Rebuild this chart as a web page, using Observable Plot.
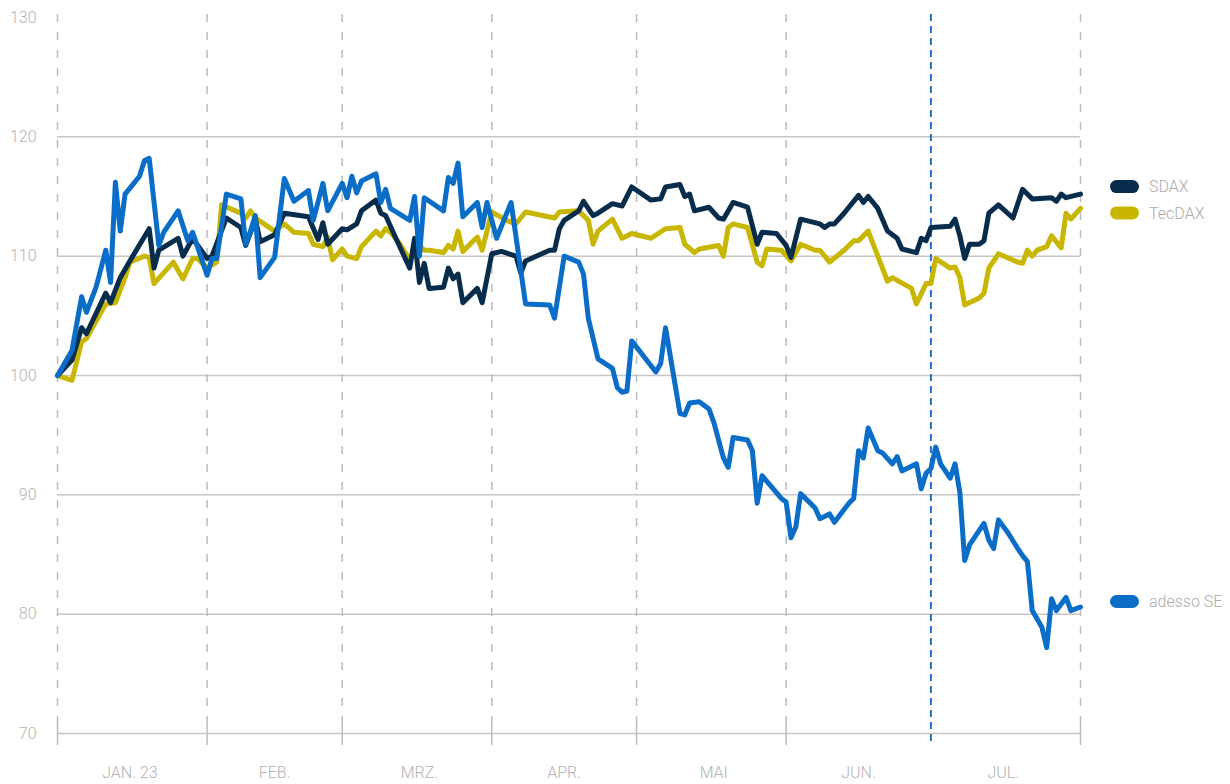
<!DOCTYPE html>
<html>
<head>
<meta charset="utf-8">
<script src="https://cdn.jsdelivr.net/npm/d3@7"></script>
<script src="https://cdn.jsdelivr.net/npm/@observablehq/plot@0.6"></script>
<style>
html, body { margin: 0; padding: 0; background: #fff; }
#chart { width: 1230px; height: 784px; }
</style>
</head>
<body>
<div id="chart"></div>
<script>
// ---------- data ----------
const seriesNames = ["TecDAX", "SDAX", "adesso SE"];
const seriesColors = ["#c9b600", "#082c4c", "#0a6ec9"];

const sdaxDates = ["2023-01-01","2023-01-04","2023-01-06","2023-01-07","2023-01-11","2023-01-12","2023-01-14","2023-01-16","2023-01-20","2023-01-21","2023-01-22","2023-01-26","2023-01-27","2023-01-29","2023-02-01","2023-02-02","2023-02-05","2023-02-08","2023-02-09","2023-02-11","2023-02-12","2023-02-15","2023-02-17","2023-02-22","2023-02-24","2023-02-25","2023-02-26","2023-03-01","2023-03-02","2023-03-04","2023-03-05","2023-03-08","2023-03-09","2023-03-10","2023-03-12","2023-03-15","2023-03-16","2023-03-17","2023-03-18","2023-03-19","2023-03-22","2023-03-23","2023-03-24","2023-03-25","2023-03-26","2023-03-29","2023-03-30","2023-04-01","2023-04-03","2023-04-06","2023-04-07","2023-04-08","2023-04-13","2023-04-14","2023-04-15","2023-04-16","2023-04-19","2023-04-20","2023-04-22","2023-04-23","2023-04-26","2023-04-28","2023-04-30","2023-05-04","2023-05-06","2023-05-07","2023-05-10","2023-05-11","2023-05-12","2023-05-13","2023-05-16","2023-05-18","2023-05-19","2023-05-21","2023-05-24","2023-05-26","2023-05-27","2023-05-30","2023-06-01","2023-06-02","2023-06-04","2023-06-08","2023-06-09","2023-06-10","2023-06-11","2023-06-13","2023-06-16","2023-06-17","2023-06-18","2023-06-20","2023-06-22","2023-06-24","2023-06-25","2023-06-28","2023-06-29","2023-06-30","2023-07-01","2023-07-05","2023-07-06","2023-07-07","2023-07-08","2023-07-09","2023-07-11","2023-07-12","2023-07-13","2023-07-15","2023-07-18","2023-07-20","2023-07-22","2023-07-26","2023-07-27","2023-07-28","2023-07-29","2023-08-01"];
const sdaxValues = [100,101.3,104.0,103.5,106.9,106.1,108.2,109.6,112.3,109.0,110.5,111.5,110.0,111.5,109.8,110.0,113.2,112.4,110.9,113.1,111.2,111.8,113.6,113.3,111.4,112.8,111.0,112.3,112.2,112.7,113.8,114.7,113.6,113.4,111.6,109.0,111.5,107.8,109.4,107.3,107.4,109.0,108.1,108.5,106.1,107.3,106.1,110.2,110.4,110.0,108.6,109.6,110.5,110.5,112.3,113.0,113.8,114.6,113.4,113.6,114.4,114.2,115.8,114.7,114.8,115.8,116.0,115.0,115.2,113.8,114.1,113.2,113.1,114.5,114.1,111.0,112.0,111.9,110.9,109.9,113.1,112.7,112.4,112.7,112.7,113.6,115.1,114.5,115.0,114.0,112.1,111.5,110.6,110.3,111.5,111.3,112.4,112.5,113.1,111.7,109.8,111.0,111.0,111.3,113.6,114.3,113.2,115.6,114.8,114.9,114.6,115.2,114.9,115.2];

const tecdaxDates = ["2023-01-01","2023-01-04","2023-01-06","2023-01-07","2023-01-11","2023-01-13","2023-01-15","2023-01-16","2023-01-19","2023-01-20","2023-01-21","2023-01-25","2023-01-27","2023-01-29","2023-01-30","2023-02-01","2023-02-03","2023-02-04","2023-02-08","2023-02-09","2023-02-10","2023-02-11","2023-02-15","2023-02-17","2023-02-19","2023-02-22","2023-02-23","2023-02-25","2023-02-26","2023-02-27","2023-03-01","2023-03-02","2023-03-04","2023-03-05","2023-03-08","2023-03-09","2023-03-10","2023-03-11","2023-03-13","2023-03-15","2023-03-16","2023-03-17","2023-03-18","2023-03-19","2023-03-22","2023-03-23","2023-03-24","2023-03-25","2023-03-26","2023-03-29","2023-03-30","2023-04-01","2023-04-04","2023-04-06","2023-04-08","2023-04-14","2023-04-15","2023-04-19","2023-04-21","2023-04-22","2023-04-23","2023-04-26","2023-04-28","2023-04-30","2023-05-04","2023-05-07","2023-05-10","2023-05-11","2023-05-13","2023-05-14","2023-05-18","2023-05-19","2023-05-20","2023-05-21","2023-05-24","2023-05-26","2023-05-27","2023-05-28","2023-05-31","2023-06-02","2023-06-04","2023-06-07","2023-06-08","2023-06-10","2023-06-13","2023-06-15","2023-06-16","2023-06-18","2023-06-20","2023-06-22","2023-06-23","2023-06-27","2023-06-28","2023-06-30","2023-07-01","2023-07-02","2023-07-05","2023-07-06","2023-07-07","2023-07-08","2023-07-11","2023-07-12","2023-07-13","2023-07-15","2023-07-19","2023-07-20","2023-07-21","2023-07-22","2023-07-23","2023-07-25","2023-07-26","2023-07-28","2023-07-29","2023-07-30","2023-08-01"];
const tecdaxValues = [100,99.6,102.8,103.1,106.0,106.1,108.2,109.5,110.0,109.9,107.7,109.5,108.1,109.8,109.8,109.0,109.5,114.3,113.6,113.2,113.8,113.2,112.1,112.7,112.0,111.9,111.0,110.8,111.6,109.7,110.6,110.0,109.8,110.8,112.1,111.7,112.3,112.0,111.0,109.7,110.2,110.9,110.5,110.5,110.3,110.9,110.6,112.1,110.4,111.6,110.5,113.7,113.0,112.7,113.7,113.2,113.7,113.8,113.0,111.0,112.1,113.1,111.5,111.9,111.5,112.3,112.4,111.0,110.3,110.6,110.9,110.0,112.4,112.7,112.4,109.5,109.2,110.6,110.5,109.6,111.0,110.5,110.5,109.5,110.5,111.3,111.3,112.1,110.0,107.9,108.2,107.3,106.0,107.7,107.7,109.8,109.0,109.1,108.2,105.9,106.5,106.9,109.0,110.2,109.5,109.4,110.5,110.0,110.5,110.8,111.7,110.7,113.6,113.1,114.0];

const adessoDates = ["2023-01-01","2023-01-04","2023-01-06","2023-01-07","2023-01-09","2023-01-11","2023-01-12","2023-01-13","2023-01-14","2023-01-15","2023-01-18","2023-01-19","2023-01-20","2023-01-22","2023-01-23","2023-01-26","2023-01-28","2023-01-29","2023-02-01","2023-02-02","2023-02-03","2023-02-05","2023-02-08","2023-02-09","2023-02-10","2023-02-11","2023-02-12","2023-02-15","2023-02-17","2023-02-19","2023-02-22","2023-02-23","2023-02-25","2023-02-26","2023-03-01","2023-03-02","2023-03-03","2023-03-04","2023-03-05","2023-03-08","2023-03-09","2023-03-10","2023-03-11","2023-03-15","2023-03-16","2023-03-17","2023-03-18","2023-03-22","2023-03-23","2023-03-24","2023-03-25","2023-03-26","2023-03-29","2023-03-30","2023-03-31","2023-04-02","2023-04-05","2023-04-08","2023-04-13","2023-04-14","2023-04-16","2023-04-19","2023-04-20","2023-04-21","2023-04-23","2023-04-26","2023-04-27","2023-04-28","2023-04-29","2023-04-30","2023-05-05","2023-05-06","2023-05-07","2023-05-10","2023-05-11","2023-05-12","2023-05-14","2023-05-16","2023-05-17","2023-05-19","2023-05-20","2023-05-21","2023-05-24","2023-05-25","2023-05-26","2023-05-27","2023-05-31","2023-06-01","2023-06-02","2023-06-03","2023-06-04","2023-06-07","2023-06-08","2023-06-10","2023-06-11","2023-06-14","2023-06-15","2023-06-16","2023-06-17","2023-06-18","2023-06-20","2023-06-21","2023-06-23","2023-06-24","2023-06-25","2023-06-28","2023-06-29","2023-06-30","2023-07-01","2023-07-02","2023-07-03","2023-07-05","2023-07-06","2023-07-07","2023-07-08","2023-07-09","2023-07-12","2023-07-13","2023-07-14","2023-07-15","2023-07-17","2023-07-19","2023-07-20","2023-07-21","2023-07-22","2023-07-24","2023-07-25","2023-07-26","2023-07-27","2023-07-29","2023-07-30","2023-08-01"];
const adessoValues = [100,102.1,106.6,105.3,107.4,110.5,107.8,116.2,112.1,115.2,116.7,118.0,118.2,110.9,112.0,113.8,111.3,112.0,108.4,109.8,109.8,115.2,114.8,111.0,112.1,113.4,108.2,109.9,116.5,114.6,115.5,113.0,116.1,113.8,116.1,114.9,116.7,115.3,116.3,116.9,114.5,115.6,114.0,113.0,115.0,110.0,114.9,113.8,116.6,116.1,117.8,113.3,114.5,112.4,114.5,111.5,114.5,106.0,105.9,104.8,110.0,109.5,108.5,104.8,101.4,100.6,99.0,98.6,98.7,102.9,100.3,101.0,104.0,96.8,96.7,97.7,97.8,97.2,96.1,93.1,92.3,94.8,94.6,93.7,89.3,91.6,89.7,89.4,86.4,87.3,90.1,88.9,88.0,88.4,87.7,89.3,89.7,93.7,93.1,95.6,93.7,93.5,92.6,93.2,92.0,92.6,90.5,91.8,92.2,94.0,92.6,91.4,92.6,90.2,84.5,85.8,87.6,86.2,85.5,87.9,86.8,85.5,84.9,84.4,80.3,78.9,77.2,81.3,80.3,81.4,80.3,80.6];

const xDomain = ["2023-01-01", "2023-08-01"];
const yTicks = [70, 80, 90, 100, 110, 120, 130];
const gridValues = [70, 80, 90, 100, 110, 120];
const monthStarts = ["2023-01-01","2023-02-01","2023-03-01","2023-04-01","2023-05-01","2023-06-01","2023-08-01"];
const highlightDate = ["2023-07-01"];
const labelDates = ["2023-01-16","2023-02-15","2023-03-17","2023-04-16","2023-05-17","2023-06-16","2023-07-16"];
const monthLabels = ["JAN. 23","FEB.","MRZ.","APR.","MAI","JUN.","JUL."];

// ---------- build ----------
const parse = d3.utcParse("%Y-%m-%d");
const rows = (name, dates, values) => dates.map((d, i) => ({name, date: parse(d), value: values[i]}));
const data = [
  ...rows("TecDAX", tecdaxDates, tecdaxValues),
  ...rows("SDAX", sdaxDates, sdaxValues),
  ...rows("adesso SE", adessoDates, adessoValues)
];
const labelMap = new Map(labelDates.map((d, i) => [+parse(d), monthLabels[i]]));

const textColor = "#b3b3b3";
const chart = Plot.plot({
  width: 1230,
  height: 784,
  marginLeft: 57,
  marginRight: 150,
  marginTop: 17,
  marginBottom: 51,
  style: {fontFamily: "Roboto, 'Open Sans', sans-serif", fontSize: "16px", color: textColor, background: "#fff", fontWeight: 300},
  x: {type: "utc", domain: xDomain.map(parse), label: null},
  y: {domain: [70, 130], label: null},
  color: {domain: seriesNames, range: seriesColors},
  marks: [
    Plot.ruleY(gridValues, {stroke: "#c6c6c6", strokeWidth: 1.5}),
    Plot.ruleX(monthStarts.map(parse), {stroke: "#bcbcbc", strokeWidth: 1.5, strokeDasharray: "8,10", insetTop: -3, insetBottom: 0}),
    Plot.ruleX(monthStarts.map(parse), {stroke: "#bcbcbc", strokeWidth: 1.5, insetTop: 706, insetBottom: -12}),
    Plot.ruleX(highlightDate.map(parse), {stroke: "#1a72cf", strokeWidth: 2, strokeDasharray: "7,5", insetTop: -3, insetBottom: -12}),
    Plot.line(data, {x: "date", y: "value", z: "name", stroke: "name", strokeWidth: 5, strokeLinejoin: "round", strokeLinecap: "round"}),
    Plot.axisY({ticks: yTicks, tickSize: 0, tickPadding: 21, fontSize: 16, fill: textColor, label: null}),
    Plot.axisX({ticks: labelDates.map(parse), tickSize: 0, tickPadding: 33, fontSize: 16, fill: textColor, label: null, tickFormat: d => labelMap.get(+d)})
  ]
});
document.getElementById("chart").appendChild(chart);

// ---------- legend (positioned from the plot's own scales) ----------
const legendOrder = ["SDAX", "TecDAX", "adesso SE"];
const legendShift = {"SDAX": -7, "TecDAX": 5, "adesso SE": -5};
const xs = chart.scale("x"), ys = chart.scale("y");
const endX = xs.apply(parse(xDomain[1]));
const svg = d3.select(chart);
const lg = svg.append("g").attr("text-anchor", "start");
legendOrder.forEach(name => {
  const pts = data.filter(d => d.name === name);
  const last = pts[pts.length - 1];
  const cy = ys.apply(last.value) + legendShift[name];
  const color = seriesColors[seriesNames.indexOf(name)];
  lg.append("rect")
    .attr("x", endX + 30).attr("y", cy - 6.5)
    .attr("width", 29).attr("height", 13)
    .attr("rx", 6.5).attr("fill", color);
  lg.append("text")
    .attr("x", endX + 69).attr("y", cy)
    .attr("dy", "0.35em")
    .attr("text-anchor", "start")
    .attr("fill", "#ababab")
    .attr("font-size", 16)
    .attr("font-weight", 300)
    .attr("font-family", "Roboto, sans-serif")
    .text(name);
});
</script>
</body>
</html>
